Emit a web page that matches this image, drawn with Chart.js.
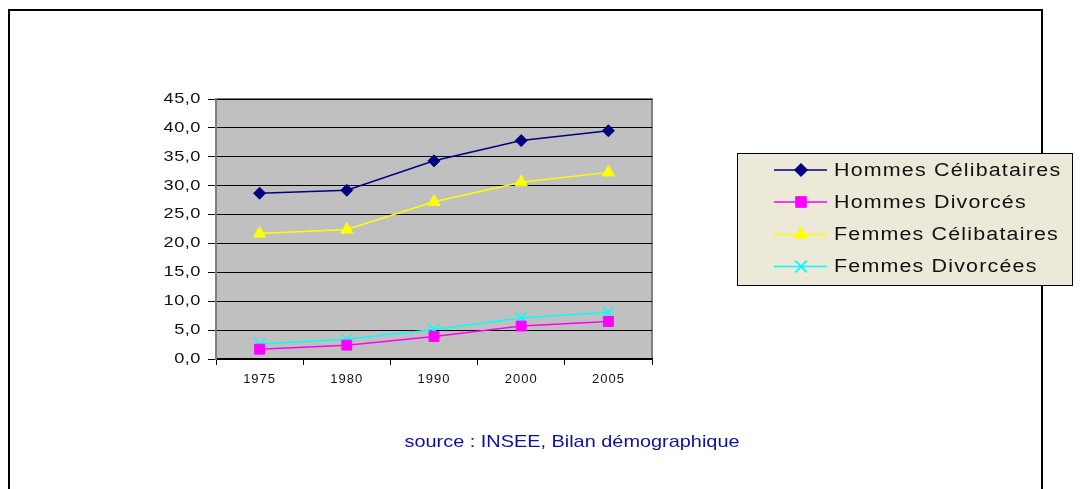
<!DOCTYPE html>
<html>
<head>
<meta charset="utf-8">
<script src="https://cdn.jsdelivr.net/npm/chart.js@4.4.0/dist/chart.umd.min.js"></script>
<style>
  html, body { margin: 0; padding: 0; background: #fff; }
  canvas { display: block; }
</style>
</head>
<body>
<canvas id="myChart" width="1090" height="489"></canvas>
<script>
// data
const years = ["1975", "1980", "1990", "2000", "2005"];
const hommesCelib = [28.7, 29.2, 34.3, 37.8, 39.5];
const hommesDiv = [1.7, 2.4, 3.9, 5.7, 6.5];
const femmesCelib = [21.7, 22.4, 27.2, 30.6, 32.3];
const femmesDiv = [2.6, 3.4, 5.1, 7.1, 8.1];
const yTicks = [0, 5, 10, 15, 20, 25, 30, 35, 40, 45];
const sourceText = "source : INSEE, Bilan démographique";

const FONT = "'Liberation Sans', Arial, sans-serif";

// wide text, like the old office export
function wideText(ctx, txt, x, y, sx) {
    ctx.save();
    ctx.translate(x, y);
    ctx.scale(sx, 1);
    ctx.fillText(txt, 0, 0);
    ctx.restore();
}

// frame, plot background, legend, source line
const decor = {
    id: "decor",
    afterLayout(chart) {
        const x = chart.scales.x, y = chart.scales.y;
        if (x && !x._wide) {
            const ox = x.drawLabels.bind(x);
            x.drawLabels = function (area) {
                const ctx = chart.ctx;
                ctx.save();
                ctx.letterSpacing = "1px";
                ox(area);
                ctx.restore();
            };
            x._wide = true;
        }
        if (y && !y._wide) {
            const oy = y.drawLabels.bind(y);
            y.drawLabels = function (area) {
                const ctx = chart.ctx;
                const rx = chart.chartArea.left - 15;
                ctx.save();
                ctx.translate(rx, 0);
                ctx.scale(1.3, 1);
                ctx.translate(-rx, 0);
                ctx.letterSpacing = "0.4px";
                oy(area);
                ctx.restore();
            };
            y._wide = true;
        }
    },
    beforeDraw(chart) {
        const ctx = chart.ctx;
        const a = chart.chartArea;
        ctx.save();
        ctx.fillStyle = "#ffffff";
        ctx.fillRect(0, 0, chart.width, chart.height);
        // outer frame
        ctx.strokeStyle = "#000";
        ctx.lineWidth = 2;
        ctx.strokeRect(9, 10, 1033, 600);
        // plot area
        ctx.fillStyle = "#C0C0C0";
        ctx.fillRect(a.left, a.top, a.right - a.left, a.bottom - a.top);
        ctx.strokeStyle = "#808080";
        ctx.lineWidth = 2;
        ctx.strokeRect(a.left, a.top, a.right - a.left, a.bottom - a.top);
        ctx.restore();
    },
    afterDraw(chart) {
        const ctx = chart.ctx;
        ctx.save();
        // legend box
        ctx.fillStyle = "#ECE9D8";
        ctx.fillRect(737, 153, 335, 132);
        ctx.strokeStyle = "#000";
        ctx.lineWidth = 1;
        ctx.strokeRect(737.5, 153.5, 335, 132);
        const rows = [170, 202, 234.5, 266.5];
        chart.data.datasets.forEach(function (ds, i) {
            const y = rows[i];
            ctx.strokeStyle = ds.borderColor;
            ctx.lineWidth = 1.5;
            ctx.beginPath();
            ctx.moveTo(774, y);
            ctx.lineTo(827, y);
            ctx.stroke();
            Chart.helpers.drawPoint(ctx, {
                pointStyle: ds.pointStyle,
                radius: ds.pointRadius,
                borderWidth: ds.pointBorderWidth || 1,
                rotation: 0
            }, 801, y);
            ctx.fillStyle = ds.pointBackgroundColor;
            ctx.strokeStyle = ds.pointBorderColor;
            ctx.lineWidth = ds.pointBorderWidth || 1;
            if (ds.pointStyle === "crossRot") ctx.stroke(); else { ctx.fill(); ctx.stroke(); }
            ctx.fillStyle = "#111";
            ctx.font = "18px " + FONT;
            ctx.letterSpacing = "1px";
            ctx.textBaseline = "middle";
            ctx.textAlign = "left";
            wideText(ctx, ds.label, 834, y + 1, 1.19);
            ctx.letterSpacing = "0px";
        });
        // source
        ctx.fillStyle = "#1010A0";
        ctx.font = "17px " + FONT;
        ctx.textAlign = "center";
        ctx.textBaseline = "middle";
        wideText(ctx, sourceText, 572, 442, 1.17);
        ctx.restore();
    }
};

function serie(label, data, color, style, radius, bw) {
    return {
        label: label,
        data: data,
        borderColor: color,
        backgroundColor: color,
        borderWidth: 1.5,
        pointStyle: style,
        pointRadius: radius,
        pointHoverRadius: radius,
        pointBackgroundColor: color,
        pointBorderColor: color,
        pointBorderWidth: bw,
        tension: 0
    };
}

new Chart(document.getElementById("myChart").getContext("2d"), {
    type: "line",
    data: {
        labels: years,
        datasets: [
            serie("Hommes Célibataires", hommesCelib, "#000080", "rectRot", 6, 1),
            serie("Hommes Divorcés", hommesDiv, "#FF00FF", "rect", 7, 1),
            serie("Femmes Célibataires", femmesCelib, "#FFFF00", "triangle", 7, 1),
            serie("Femmes Divorcées", femmesDiv, "#00FFFF", "crossRot", 8, 1.5)
        ]
    },
    options: {
        responsive: false,
        animation: false,
        devicePixelRatio: 1,
        layout: { padding: { left: 156, right: 438, top: 99, bottom: 100 } },
        plugins: {
            legend: { display: false },
            tooltip: { enabled: false }
        },
        scales: {
            x: {
                offset: true,
                afterFit: function (s) { s.height = 30; },
                grid: {
                    offset: true,
                    drawOnChartArea: false,
                    drawTicks: true,
                    tickLength: 6,
                    color: "#000"
                },
                border: { color: "#000", width: 1.5 },
                ticks: {
                    color: "#111",
                    padding: 7,
                    font: { family: FONT, size: 13 }
                }
            },
            y: {
                min: 0,
                max: 45,
                afterFit: function (s) { s.width = 60; },
                afterBuildTicks: function (s) { s.ticks = yTicks.map(function (v) { return { value: v }; }); },
                grid: {
                    color: "#000",
                    lineWidth: 1,
                    drawTicks: true,
                    tickLength: 8,
                    tickColor: "#000"
                },
                border: { color: "#808080", width: 2 },
                ticks: {
                    color: "#111",
                    padding: 7,
                    font: { family: FONT, size: 14 },
                    callback: function (v) { return v.toFixed(1).replace(".", ","); }
                }
            }
        }
    },
    plugins: [decor]
});
</script>
</body>
</html>
